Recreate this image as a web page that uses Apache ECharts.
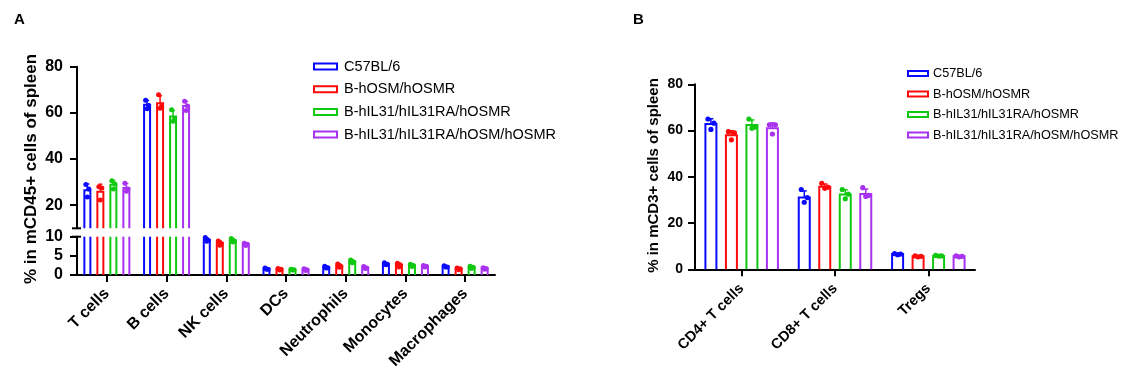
<!DOCTYPE html>
<html>
<head>
<meta charset="utf-8">
<script src="https://cdn.jsdelivr.net/npm/echarts@6/dist/echarts.min.js"></script>
<style>
html,body{margin:0;padding:0;background:#fff;}
#chart{width:1129px;height:384px;}
</style>
</head>
<body>
<div id="chart"></div>
<script>
// ---------- DATA ----------
const groups = ['C57BL/6', 'B-hOSM/hOSMR', 'B-hIL31/hIL31RA/hOSMR', 'B-hIL31/hIL31RA/hOSM/hOSMR'];
const colors = ['#0a0aff', '#ff0a0a', '#10c810', '#a832f0'];

// Panel A: % in mCD45+ cells of spleen
const catsA = ['T cells', 'B cells', 'NK cells', 'DCs', 'Neutrophils', 'Monocytes', 'Macrophages'];
const meanA_C57   = [26.5, 63.5, 9.2, 1.6, 2.0, 2.9, 2.2];
const meanA_hOSM  = [25.8, 64.2, 8.3, 1.5, 2.4, 2.6, 1.6];
const meanA_hIL31 = [28.9, 58.4, 9.0, 1.4, 3.5, 2.5, 2.0];
const meanA_quad  = [27.5, 63.0, 8.0, 1.4, 1.9, 2.3, 1.7];
const sdA_C57   = [2.7, 1.9, 0.5, 0.2, 0.3, 0.3, 0.2];
const sdA_hOSM  = [3.3, 3.2, 0.6, 0.2, 0.5, 0.5, 0.2];
const sdA_hIL31 = [1.8, 2.6, 0.5, 0.1, 0.4, 0.3, 0.3];
const sdA_quad  = [1.9, 2.0, 0.3, 0.2, 0.3, 0.2, 0.2];
const dotsA_C57   = [[29.0, 27.0, 23.6], [65.5, 63.2, 61.8], [9.8, 9.0, 8.8], [1.8, 1.5, 1.5], [2.3, 1.9, 1.8], [3.2, 2.8, 2.7], [2.4, 2.1, 2.1]];
const dotsA_hOSM  = [[28.0, 27.5, 22.3], [67.8, 63.0, 62.0], [8.9, 8.2, 7.8], [1.7, 1.5, 1.3], [2.9, 2.3, 2.0], [3.1, 2.6, 2.1], [1.8, 1.6, 1.4]];
const dotsA_hIL31 = [[30.6, 29.2, 27.0], [61.3, 57.5, 56.4], [9.5, 8.9, 8.6], [1.5, 1.4, 1.3], [3.9, 3.4, 3.2], [2.8, 2.5, 2.2], [2.3, 2.0, 1.7]];
const dotsA_quad  = [[29.5, 27.0, 26.0], [65.0, 63.0, 61.0], [8.3, 8.0, 7.7], [1.6, 1.4, 1.2], [2.2, 1.8, 1.7], [2.5, 2.3, 2.1], [1.9, 1.7, 1.5]];
const ticksA_top = [20, 40, 60, 80];
const rangeA_top = [10, 80];
const rangeA_bottom = [0, 10];

// Panel B: % in mCD3+ cells of spleen
const catsB = ['CD4+ T cells', 'CD8+ T cells', 'Tregs'];
const meanB_C57   = [62.8, 31.1, 6.6];
const meanB_hOSM  = [58.0, 35.7, 5.6];
const meanB_hIL31 = [62.4, 32.4, 5.8];
const meanB_quad  = [61.0, 32.6, 5.6];
const sdB_C57   = [2.3, 2.8, 0.3];
const sdB_hOSM  = [1.9, 1.2, 0.2];
const sdB_hIL31 = [2.2, 2.0, 0.2];
const sdB_quad  = [2.3, 2.1, 0.2];
const dotsB_C57   = [[65.0, 63.2, 60.5], [34.5, 31.0, 29.0], [6.8, 6.6, 6.3]];
const dotsB_hOSM  = [[59.5, 59.0, 56.0], [37.2, 35.5, 35.0], [5.8, 5.6, 5.4]];
const dotsB_hIL31 = [[65.0, 61.5, 61.0], [34.5, 32.5, 30.5], [6.0, 5.8, 5.7]];
const dotsB_quad  = [[62.5, 62.5, 58.5], [35.3, 32.0, 31.5], [5.8, 5.6, 5.4]];
const rangeB = [0, 80];

// ---------- BUILD ----------
const FONT = "'Liberation Sans', Arial, sans-serif";
const meansA = [meanA_C57, meanA_hOSM, meanA_hIL31, meanA_quad];
const sdsA = [sdA_C57, sdA_hOSM, sdA_hIL31, sdA_quad];
const dotsA = [dotsA_C57, dotsA_hOSM, dotsA_hIL31, dotsA_quad];
const meansB = [meanB_C57, meanB_hOSM, meanB_hIL31, meanB_quad];
const sdsB = [sdB_C57, sdB_hOSM, sdB_hIL31, sdB_quad];
const dotsB = [dotsB_C57, dotsB_hOSM, dotsB_hIL31, dotsB_quad];

function rows(means, sds, dots) {
  return means.map((m, i) => [i, m, sds[i], dots[i][0], dots[i][1], dots[i][2]]);
}

// hollow bar + upper error bar + individual points, clipped to the axis range [lo, hi]
function makeRender(gi, barW, spacing, capW, dotR, jit, lo, hi) {
  return function (params, api) {
    const ci = api.value(0), m = api.value(1), sd = api.value(2);
    const children = [];
    const color = api.visual('color');
    const yLo = api.coord([ci, lo])[1];
    const yHi = api.coord([ci, hi])[1];
    const cx = api.coord([ci, lo])[0] + (gi - 1.5) * spacing;
    if (m > lo) {
      const topVal = Math.min(m, hi);
      const yTop = api.coord([ci, topVal])[1];
      const xl = cx - barW / 2, xr = cx + barW / 2;
      if (m <= hi) {
        children.push({ type: 'polyline', shape: { points: [[xl, yLo], [xl, yTop], [xr, yTop], [xr, yLo]] },
          style: { stroke: color, fill: null, lineWidth: 2, lineJoin: 'miter' } });
      } else {
        children.push({ type: 'line', shape: { x1: xl, y1: yLo, x2: xl, y2: yHi }, style: { stroke: color, lineWidth: 2 } });
        children.push({ type: 'line', shape: { x1: xr, y1: yLo, x2: xr, y2: yHi }, style: { stroke: color, lineWidth: 2 } });
      }
      const upVal = m + sd;
      if (m <= hi) {
        const yUp = api.coord([ci, Math.min(upVal, hi)])[1];
        children.push({ type: 'line', shape: { x1: cx, y1: yTop, x2: cx, y2: yUp }, style: { stroke: color, lineWidth: 1.5 } });
        if (upVal <= hi) {
          children.push({ type: 'line', shape: { x1: cx - capW / 2, y1: yUp, x2: cx + capW / 2, y2: yUp }, style: { stroke: color, lineWidth: 1.5 } });
        }
      }
    }
    for (let k = 0; k < 3; k++) {
      const v = api.value(3 + k);
      if (v < lo || v > hi) continue;
      const p = api.coord([ci, v]);
      children.push({ type: 'circle', shape: { cx: cx + jit[k], cy: p[1], r: dotR }, style: { fill: color } });
    }
    return { type: 'group', children };
  };
}

const series = [];
groups.forEach((g, gi) => {
  const dataA = rows(meansA[gi], sdsA[gi], dotsA[gi]);
  [[0, rangeA_top], [1, rangeA_bottom]].forEach(([ax, rg]) => {
    series.push({
      type: 'custom', name: g, xAxisIndex: ax, yAxisIndex: ax,
      itemStyle: { color: colors[gi] },
      encode: { x: 0, y: 1 },
      renderItem: makeRender(gi, 6, 13, 4, 2.5, [-1.5, 1.5, 0], rg[0], rg[1]),
      data: dataA
    });
  });
  series.push({
    type: 'custom', name: g, xAxisIndex: 2, yAxisIndex: 2,
    itemStyle: { color: colors[gi] },
    encode: { x: 0, y: 1 },
    renderItem: makeRender(gi, 11, 20.5, 5, 2.6, [-3, 3, 0], rangeB[0], rangeB[1]),
    data: rows(meansB[gi], sdsB[gi], dotsB[gi])
  });
});

const axisLineStyle = { color: '#000', width: 2 };
function yAx(gi, opts, fs, margin) {
  return Object.assign({
    type: 'value', gridIndex: gi,
    axisLine: { show: true, lineStyle: axisLineStyle },
    axisTick: { show: true, length: 7, lineStyle: axisLineStyle },
    axisLabel: { color: '#000', fontWeight: 'bold', fontSize: fs, fontFamily: FONT, margin: margin },
    splitLine: { show: false }
  }, opts);
}

const legendItems = () => groups.map((g, i) => ({
  name: g, icon: 'rect',
  itemStyle: { color: '#fff', borderColor: colors[i], borderWidth: 2 }
}));

const option = {
  backgroundColor: '#fff',
  animation: false,
  grid: [
    { left: 77, top: 66.7, width: 418, height: 161.6 },
    { left: 77, top: 236.7, width: 418, height: 38.3 },
    { left: 695, top: 84.3, width: 280, height: 185 }
  ],
  xAxis: [
    { type: 'category', gridIndex: 0, data: catsA, show: false },
    { type: 'category', gridIndex: 1, data: catsA,
      axisLine: { show: true, onZero: false, lineStyle: axisLineStyle },
      axisTick: { show: true, alignWithLabel: true, length: 7, lineStyle: axisLineStyle },
      axisLabel: { rotate: 45, color: '#000', fontWeight: 'bold', fontSize: 16, fontFamily: FONT, margin: 16, interval: 0 } },
    { type: 'category', gridIndex: 2, data: catsB,
      axisLine: { show: true, onZero: false, lineStyle: axisLineStyle },
      axisTick: { show: true, alignWithLabel: true, length: 7, lineStyle: axisLineStyle },
      axisLabel: { rotate: 45, color: '#000', fontWeight: 'bold', fontSize: 14.5, fontFamily: FONT, margin: 17, interval: 0 } }
  ],
  yAxis: [
    yAx(0, { min: rangeA_top[0], max: rangeA_top[1], axisTick: { show: true, length: 7, lineStyle: axisLineStyle, customValues: ticksA_top } }, 16, 14),
    yAx(1, { min: rangeA_bottom[0], max: rangeA_bottom[1], interval: 5 }, 16, 14),
    yAx(2, { min: rangeB[0], max: rangeB[1], interval: 20 }, 14, 12)
  ],
  legend: [
    { orient: 'vertical', left: 308, top: 54, itemWidth: 23, itemHeight: 6, itemGap: 7.7,
      textStyle: { fontSize: 14.5, fontFamily: FONT, color: '#000', padding: [0, 0, 0, 2] },
      data: legendItems(), selectedMode: false },
    { orient: 'vertical', left: 902, top: 62, itemWidth: 20, itemHeight: 5, itemGap: 7.5,
      textStyle: { fontSize: 12.7, fontFamily: FONT, color: '#000', padding: [0, 0, 0, 0] },
      data: legendItems(), selectedMode: false }
  ],
  graphic: [
    { type: 'text', left: 14, top: 12, style: { text: 'A', font: "bold 15px " + FONT, fill: '#000' } },
    { type: 'text', left: 633, top: 12, style: { text: 'B', font: "bold 15px " + FONT, fill: '#000' } },
    { type: 'text', x: 31, y: 169, rotation: Math.PI / 2,
      style: { text: '% in mCD45+ cells of spleen', font: "bold 17px " + FONT, fill: '#000', align: 'center', verticalAlign: 'middle' } },
    { type: 'text', x: 654, y: 175.5, rotation: Math.PI / 2,
      style: { text: '% in mCD3+ cells of spleen', font: "bold 15px " + FONT, fill: '#000', align: 'center', verticalAlign: 'middle' } },
    { type: 'line', shape: { x1: 72, y1: 228.3, x2: 81, y2: 228.3 }, style: { stroke: '#000', lineWidth: 2 } },
    { type: 'line', shape: { x1: 72, y1: 236.7, x2: 81, y2: 236.7 }, style: { stroke: '#000', lineWidth: 2 } }
  ],
  series: series
};
option.yAxis[0].axisLabel.customValues = ticksA_top;

const chart = echarts.init(document.getElementById('chart'), null, { renderer: 'canvas' });
chart.setOption(option);
</script>
</body>
</html>
